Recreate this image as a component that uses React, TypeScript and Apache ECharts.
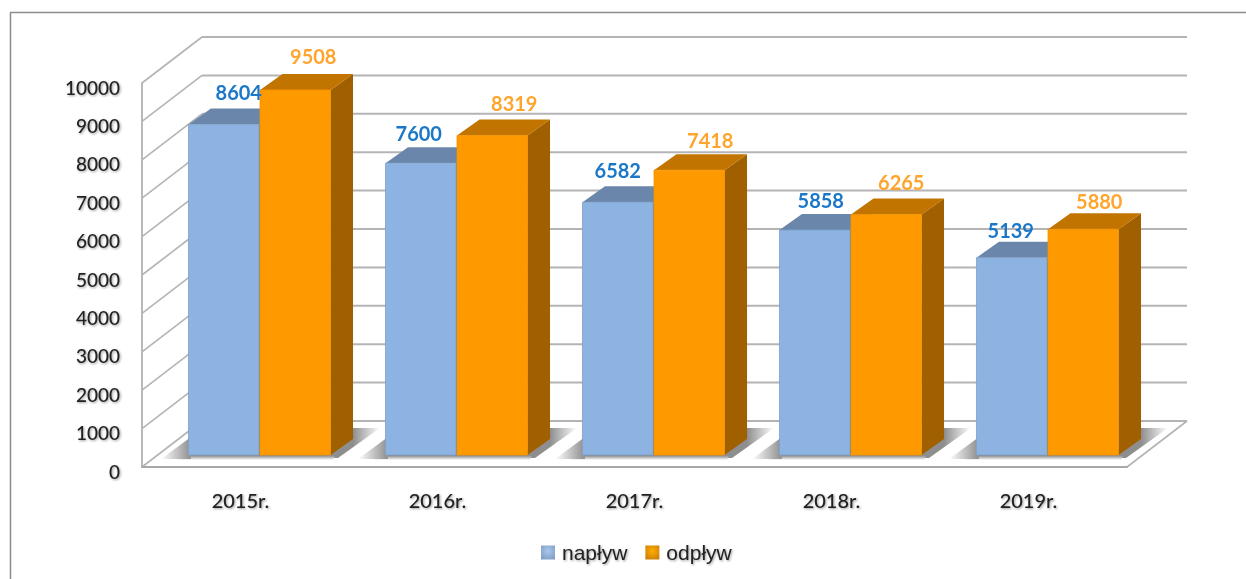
import React, { useEffect, useRef } from "react";
import * as echarts from "echarts";

const categories = ["2015r.", "2016r.", "2017r.", "2018r.", "2019r."];
const naplyw = [8604, 7600, 6582, 5858, 5139];
const odplyw = [9508, 8319, 7418, 6265, 5880];
const yTicks = [0, 1000, 2000, 3000, 4000, 5000, 6000, 7000, 8000, 9000, 10000];

// manual label placement relative to the bar top centre, as in the source chart
const naplywLabelShift = [[15, -33], [-2, -30], [0, -32], [6, -30], [-1, -28]];
const odplywLabelShift = [[18, -34], [22, -33], [21, -30], [15, -32], [16, -28]];

const WALL_DX = 60, WALL_DY = -46;
const PLANE_DX = 19, PLANE_DY = -12;
const DEPTH_DX = 22.5, DEPTH_DY = -16;
const BAR_FRACTION = 0.358;

const FONT = "Lato";

const textShadow = { textShadowColor: "rgba(40,40,40,0.45)", textShadowBlur: 2, textShadowOffsetX: 1, textShadowOffsetY: 1 };

function wallItem(params: any, api: any) {
  const t = api.value(1);
  const sys = params.coordSys;
  const y = api.coord([0, t])[1];
  const x0 = sys.x, x1 = sys.x + sys.width;
  const stroke = { stroke: "#b4b4b4", lineWidth: 1.6, fill: "none" };
  const children: any[] = [
    { type: "line", shape: { x1: x0, y1: y, x2: x0 + WALL_DX, y2: y + WALL_DY }, style: stroke },
    { type: "line", shape: { x1: x0 + WALL_DX, y1: y + WALL_DY, x2: x1 + WALL_DX, y2: y + WALL_DY }, style: { ...stroke, lineWidth: 2 } },
  ];
  if (t === 0) {
    children.push({ type: "line", shape: { x1: x1, y1: y, x2: x1 + WALL_DX, y2: y + WALL_DY }, style: stroke });
  }
  return { type: "group", children };
}

function fade(x0: number, y0: number, x1: number, y1: number, dark: string, hold = 0) {
  return new echarts.graphic.LinearGradient(x0, y0, x1, y1, [
    { offset: 0, color: dark },
    { offset: hold, color: dark },
    { offset: 1, color: "#ffffff" },
  ]);
}

function shadowItem(_params: any, api: any) {
  const i = api.value(0);
  const p = api.coord([i, 0]);
  const w = api.size([1, 0])[0] * BAR_FRACTION;
  const cx = p[0] + PLANE_DX, y = p[1] + PLANE_DY;
  const xl = cx - w, xr = cx + w;
  return {
    type: "group",
    children: [
      // soft shadow to the right of the bars, on the floor
      {
        type: "polygon",
        shape: { points: [[xr - 4, y], [xr + DEPTH_DX - 4, y - 27], [xr + 50, y - 27], [xr + 8, y + 3], [xr - 4, y + 3]] },
        style: { fill: fade(0, 0, 1, 0, "#8e8e8e", 0.5) },
      },
      // soft shadow in front of the bars
      {
        type: "polygon",
        shape: { points: [[xl - 6, y - 1], [xr + 6, y - 1], [xr + 3, y + 5], [xl - 12, y + 5]] },
        style: { fill: fade(0, 0, 0, 1, "#8e8e8e", 0.3) },
      },
      // soft shadow to the left of the bars
      {
        type: "polygon",
        shape: { points: [[xl + 2, y - 18], [xl + 2, y + 4], [xl - 28, y + 4]] },
        style: { fill: fade(1, 0, 0, 0, "#969696", 0.08) },
      },
    ],
  };
}

function barItem(side: 0 | 1, front: string, edge: string, top: string, flank: string, textColor: string, shifts: number[][]) {
  return (_params: any, api: any) => {
    const i = api.value(0);
    const v = api.value(1);
    const base = api.coord([i, 0]);
    const head = api.coord([i, v]);
    const w = api.size([1, 0])[0] * BAR_FRACTION;
    const gap = 0.5;
    const xl = base[0] + PLANE_DX + (side === 0 ? -w - gap : gap);
    const xr = xl + w;
    const yb = base[1] + PLANE_DY;
    const yt = head[1] + PLANE_DY;
    const s = shifts[i];
    return {
      type: "group",
      children: [
        {
          type: "polygon",
          shape: { points: [[xr, yt], [xr + DEPTH_DX, yt + DEPTH_DY], [xr + DEPTH_DX, yb + DEPTH_DY], [xr, yb]] },
          style: { fill: flank },
        },
        {
          type: "polygon",
          shape: { points: [[xl, yt], [xl + DEPTH_DX, yt + DEPTH_DY], [xr + DEPTH_DX, yt + DEPTH_DY], [xr, yt]] },
          style: { fill: top },
        },
        {
          type: "rect",
          shape: { x: xl, y: yt, width: w, height: yb - yt },
          style: { fill: front, stroke: edge, lineWidth: 0.8 },
        },
        {
          type: "text",
          style: {
            x: (xl + xr) / 2 + s[0],
            y: yt + s[1],
            text: String(v),
            fill: textColor,
            font: `bold 20px ${FONT}`,
            align: "center",
            verticalAlign: "middle",
          },
          z2: 20,
        },
      ],
    };
  };
}

export default function App() {
  const ref = useRef<HTMLDivElement>(null);
  useEffect(() => {
    const chart = echarts.init(ref.current!, null, { renderer: "svg" });
    const catData = categories.map((_, i) => [i, 0]);
    chart.setOption({
      animation: false,
      backgroundColor: "#ffffff",
      grid: { left: 142, top: 83, width: 985, height: 384 },
      xAxis: {
        type: "category",
        data: categories,
        axisLine: { show: true, lineStyle: { color: "#a8a8a8", width: 2 } },
        axisTick: { show: false },
        axisLabel: { margin: 23, color: "#222", fontFamily: FONT, fontSize: 20, fontWeight: 500, ...textShadow },
        splitLine: { show: false },
        z: 4,
      },
      yAxis: {
        type: "value",
        min: 0,
        max: 10000,
        interval: 1000,
        axisLine: { show: true, lineStyle: { color: "#a8a8a8", width: 1.6 } },
        axisTick: { show: false },
        axisLabel: {
          margin: 22,
          color: "#222",
          fontFamily: FONT,
          fontSize: 19,
          fontWeight: 500,
          verticalAlign: "top",
          lineHeight: 8,
          formatter: (v: number) => String(v),
          ...textShadow,
        },
        splitLine: { show: false },
      },
      legend: {
        left: 536,
        top: 537,
        itemWidth: 14,
        itemHeight: 14,
        itemGap: 18,
        selectedMode: false,
        textStyle: { color: "#222", fontFamily: "Liberation Sans", fontSize: 21, padding: [0, 0, 0, 2], ...textShadow },
        data: [
          {
            name: "napływ",
            icon: "rect",
            itemStyle: {
              color: new echarts.graphic.RadialGradient(0.5, 0.4, 0.7, [
                { offset: 0, color: "#a9c8ee" },
                { offset: 1, color: "#7f9cc2" },
              ]),
            },
          },
          {
            name: "odpływ",
            icon: "rect",
            itemStyle: {
              color: new echarts.graphic.RadialGradient(0.5, 0.4, 0.7, [
                { offset: 0, color: "#ffb000" },
                { offset: 1, color: "#c97c08" },
              ]),
            },
          },
        ],
      },
      graphic: [
        {
          type: "polyline",
          shape: { points: [[10.5, 579], [10.5, 12.5], [1246, 12.5]] },
          style: { stroke: "#8c8c8c", lineWidth: 1.5, fill: "none" },
        },
      ],
      series: [
        { type: "custom", name: "wall", z: 1, data: yTicks.map((t) => [0, t]), renderItem: wallItem, silent: true },
        { type: "custom", name: "shadow", z: 2, data: catData, renderItem: shadowItem, silent: true },
        {
          type: "custom",
          name: "napływ",
          z: 3,
          data: naplyw.map((v, i) => [i, v]),
          itemStyle: { color: "#8db3e2" },
          renderItem: barItem(0, "#8db3e2", "#7f9fc8", "#6a87ab", "#5f7ea6", "#1b78c8", naplywLabelShift),
        },
        {
          type: "custom",
          name: "odpływ",
          z: 3,
          data: odplyw.map((v, i) => [i, v]),
          itemStyle: { color: "#ff9900" },
          renderItem: barItem(1, "#ff9900", "#f39200", "#c27400", "#a06000", "#ffa52e", odplywLabelShift),
        },
      ],
    });
    return () => chart.dispose();
  }, []);
  return (
    <div
      ref={ref}
      style={{ position: "fixed", left: 0, top: 0, width: 1246, height: 579, filter: "blur(0.4px)" }}
    />
  );
}
